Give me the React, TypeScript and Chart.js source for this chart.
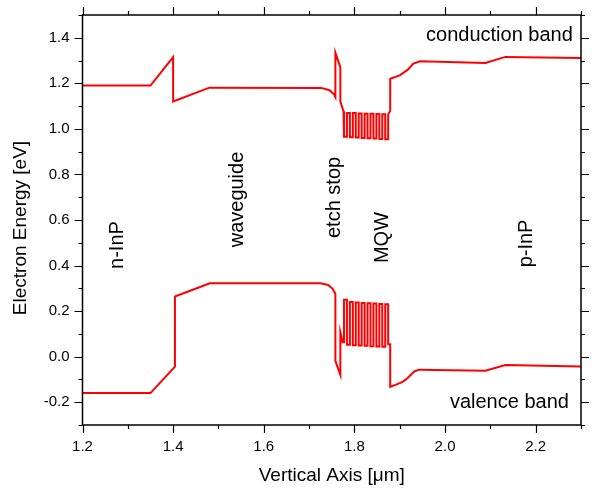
import React, { useEffect, useRef } from "react";
import { Chart, registerables } from "chart.js";

Chart.register(...registerables);

// ---- Data ----
// Conduction band, before the MQW
const cbPreX = [1.2, 1.35, 1.4, 1.4, 1.48, 1.727, 1.745, 1.755, 1.758, 1.758, 1.769, 1.769, 1.776];
const cbPreY = [1.19, 1.19, 1.315, 1.12, 1.181, 1.18, 1.17, 1.152, 1.14, 1.335, 1.27, 1.12, 1.077];
// Conduction band, after the MQW
const cbPostX = [1.8745, 1.879, 1.879, 1.9, 1.918, 1.93, 1.945, 2.089, 2.133, 2.3];
const cbPostY = [1.063, 1.08, 1.22, 1.235, 1.26, 1.287, 1.297, 1.289, 1.316, 1.311];

// Valence band, before the MQW
const vbPreX = [1.2, 1.35, 1.404, 1.404, 1.481, 1.725, 1.742, 1.752, 1.758, 1.758, 1.769, 1.769, 1.774, 1.777];
const vbPreY = [-0.16, -0.16, -0.044, 0.264, 0.322, 0.322, 0.315, 0.298, 0.276, -0.018, -0.08, 0.107, 0.063, 0.063];
// Valence band, after the MQW
const vbPostX = [1.8745, 1.879, 1.879, 1.892, 1.905, 1.914, 1.932, 1.943, 2.089, 2.133, 2.3];
const vbPostY = [0.055, 0.055, -0.132, -0.123, -0.112, -0.1, -0.065, -0.057, -0.062, -0.037, -0.043];

// MQW wells
const mqwWellStart = [1.777, 1.79, 1.803, 1.816, 1.829, 1.842, 1.855, 1.868];
const mqwWellEnd = [1.7835, 1.7965, 1.8095, 1.8225, 1.8355, 1.8485, 1.8615, 1.8745];
const cbWellBottom = [0.965, 0.963, 0.962, 0.96, 0.959, 0.958, 0.956, 0.955];
const cbBarrierTop = [1.07, 1.07, 1.068, 1.067, 1.066, 1.065, 1.064];
const vbWellTop = [0.25, 0.24, 0.238, 0.236, 0.235, 0.233, 0.231, 0.23];
const vbBarrierBottom = [0.052, 0.05, 0.049, 0.048, 0.046, 0.045, 0.044];

// Axis ticks
const xTickValues = [1.2, 1.3, 1.4, 1.5, 1.6, 1.7, 1.8, 1.9, 2.0, 2.1, 2.2, 2.3];
const xTickLabels = ["1.2", "", "1.4", "", "1.6", "", "1.8", "", "2.0", "", "2.2", ""];
const yTickValues = [-0.3, -0.2, -0.1, 0.0, 0.1, 0.2, 0.3, 0.4, 0.5, 0.6, 0.7, 0.8, 0.9, 1.0, 1.1, 1.2, 1.3, 1.4, 1.5];
const yTickLabels = ["", "-0.2", "", "0.0", "", "0.2", "", "0.4", "", "0.6", "", "0.8", "", "1.0", "", "1.2", "", "1.4", ""];

// Annotations
const regionLabels = ["n-InP", "waveguide", "etch stop", "MQW", "p-InP"];
const regionLabelX = [1.278, 1.5425, 1.756, 1.862, 2.179];
const regionLabelY = [0.49, 0.69, 0.699, 0.523, 0.497];
const bandLabels = ["conduction band", "valence band"];
const bandLabelX = [2.12, 2.142];
const bandLabelY = [1.411, -0.202];

const xTitle = "Vertical Axis [\u03bcm]";
const yTitle = "Electron Energy [eV]";

function buildCB() {
  const pts: { x: number; y: number }[] = [];
  cbPreX.forEach((x, i) => pts.push({ x, y: cbPreY[i] }));
  mqwWellStart.forEach((s, i) => {
    pts.push({ x: s, y: cbWellBottom[i] });
    pts.push({ x: mqwWellEnd[i], y: cbWellBottom[i] });
    if (i < cbBarrierTop.length) {
      pts.push({ x: mqwWellEnd[i], y: cbBarrierTop[i] });
      pts.push({ x: mqwWellStart[i + 1], y: cbBarrierTop[i] });
    }
  });
  cbPostX.forEach((x, i) => pts.push({ x, y: cbPostY[i] }));
  return pts;
}

function buildVB() {
  const pts: { x: number; y: number }[] = [];
  vbPreX.forEach((x, i) => pts.push({ x, y: vbPreY[i] }));
  mqwWellStart.forEach((s, i) => {
    pts.push({ x: s, y: vbWellTop[i] });
    pts.push({ x: mqwWellEnd[i], y: vbWellTop[i] });
    if (i < vbBarrierBottom.length) {
      pts.push({ x: mqwWellEnd[i], y: vbBarrierBottom[i] });
      pts.push({ x: mqwWellStart[i + 1], y: vbBarrierBottom[i] });
    }
  });
  vbPostX.forEach((x, i) => pts.push({ x, y: vbPostY[i] }));
  return pts;
}

const FONT = '"Liberation Sans", Arial, Helvetica, sans-serif';

const decorPlugin = {
  id: "decor",
  afterDraw(chart: any) {
    const { ctx, chartArea: a } = chart;
    const xs = chart.scales.x;
    const ys = chart.scales.y;
    ctx.save();
    ctx.strokeStyle = "#000";
    ctx.lineWidth = 1.5;
    ctx.strokeRect(a.left, a.top, a.right - a.left, a.bottom - a.top);
    ctx.lineWidth = 1.2;
    ctx.beginPath();
    xTickValues.forEach((v, i) => {
      const px = Math.round(xs.getPixelForValue(v)) + 0.5;
      const len = xTickLabels[i] ? 8 : 4;
      ctx.moveTo(px, a.bottom);
      ctx.lineTo(px, a.bottom + len);
      ctx.moveTo(px, a.top);
      ctx.lineTo(px, a.top - len);
    });
    yTickValues.forEach((v, i) => {
      const py = Math.round(ys.getPixelForValue(v)) + 0.5;
      const len = yTickLabels[i] ? 8 : 4;
      ctx.moveTo(a.left, py);
      ctx.lineTo(a.left - len, py);
      ctx.moveTo(a.right, py);
      ctx.lineTo(a.right + len, py);
    });
    ctx.stroke();

    ctx.fillStyle = "#000";
    ctx.font = `20px ${FONT}`;
    ctx.textAlign = "center";
    ctx.textBaseline = "middle";
    regionLabels.forEach((t, i) => {
      const px = xs.getPixelForValue(regionLabelX[i]);
      const py = ys.getPixelForValue(regionLabelY[i]);
      ctx.save();
      ctx.translate(px, py);
      ctx.rotate(-Math.PI / 2);
      ctx.fillText(t, 0, 0);
      ctx.restore();
    });
    bandLabels.forEach((t, i) => {
      ctx.fillText(t, xs.getPixelForValue(bandLabelX[i]), ys.getPixelForValue(bandLabelY[i]));
    });
    // axis titles
    ctx.font = `19px ${FONT}`;
    ctx.fillText(xTitle, (a.left + a.right) / 2, 476);
    ctx.save();
    ctx.translate(21, 228);
    ctx.rotate(-Math.PI / 2);
    ctx.fillText(yTitle, 0, 0);
    ctx.restore();
    ctx.restore();
  },
};

export default function App() {
  const ref = useRef<HTMLCanvasElement | null>(null);
  useEffect(() => {
    if (!ref.current) return;
    const chart = new Chart(ref.current, {
      type: "scatter",
      data: {
        datasets: [
          {
            label: "conduction band",
            data: buildCB(),
            showLine: true,
            borderColor: "#ff0000",
            borderWidth: 2,
            pointRadius: 0,
            tension: 0,
          },
          {
            label: "valence band",
            data: buildVB(),
            showLine: true,
            borderColor: "#ff0000",
            borderWidth: 2,
            pointRadius: 0,
            tension: 0,
          },
        ],
      },
      options: {
        responsive: false,
        animation: false,
        devicePixelRatio: 1,
        layout: { padding: { top: 15, right: 11, left: 0, bottom: 0 } },
        plugins: { legend: { display: false }, tooltip: { enabled: false } },
        scales: {
          x: {
            type: "linear",
            min: 1.2,
            max: 2.3,
            afterBuildTicks: (s: any) => {
              s.ticks = xTickValues.map((v) => ({ value: v }));
            },
            ticks: {
              autoSkip: false,
              maxRotation: 0,
              padding: 5,
              color: "#000",
              font: { family: FONT, size: 15 },
              callback: (_v: any, i: number) => xTickLabels[i],
            },
            grid: { display: false },
            border: { display: false },
            afterFit: (s: any) => {
              s.height = 66;
              s.paddingLeft = 0;
              s.paddingRight = 0;
            },
          },
          y: {
            type: "linear",
            min: -0.3,
            max: 1.5,
            afterBuildTicks: (s: any) => {
              s.ticks = yTickValues.map((v) => ({ value: v }));
            },
            ticks: {
              autoSkip: false,
              padding: 5,
              color: "#000",
              font: { family: FONT, size: 15 },
              callback: (_v: any, i: number) => yTickLabels[i],
            },
            grid: { display: false },
            border: { display: false },
            afterFit: (s: any) => {
              s.width = 82.5;
              s.paddingTop = 0;
              s.paddingBottom = 0;
            },
          },
        },
      },
      plugins: [decorPlugin],
    } as any);
    return () => chart.destroy();
  }, []);
  return (
    <div style={{ position: "fixed", left: 0, top: 0, width: 592, height: 491, background: "#fff" }}>
      <canvas ref={ref} width={592} height={491} style={{ width: 592, height: 491 }} />
    </div>
  );
}
